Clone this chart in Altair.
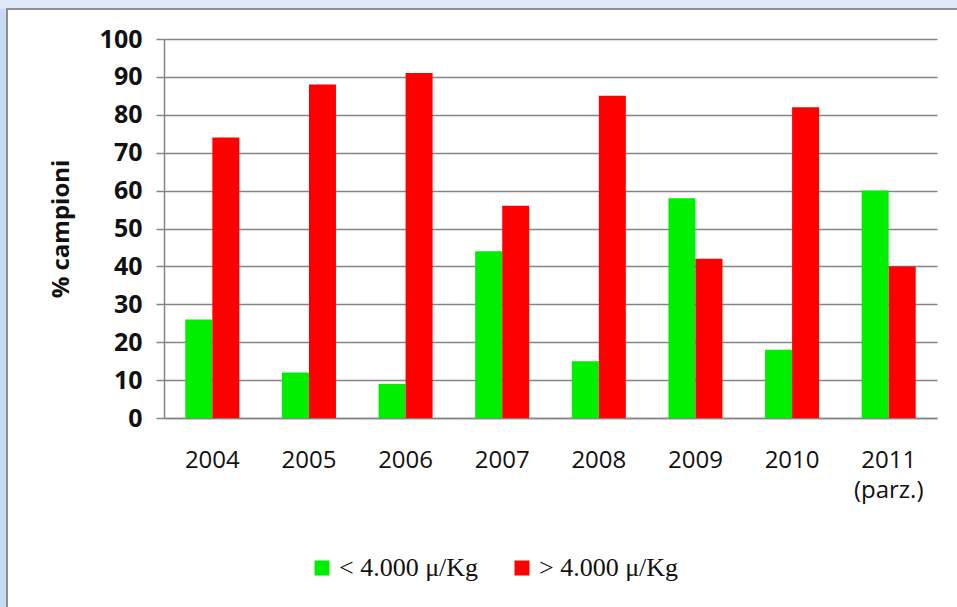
import altair as alt
import pandas as pd

# Chart data
years = ["2004", "2005", "2006", "2007", "2008", "2009", "2010", "2011 (parz.)"]
series = ["< 4.000 μ/Kg", "> 4.000 μ/Kg"]
below = [26, 12, 9, 44, 15, 58, 18, 60]
above = [74, 88, 91, 56, 85, 42, 82, 40]
colors = ["#00ee00", "#ff0000"]

rows = []
for y, lo, hi in zip(years, below, above):
    rows.append({"anno": y, "serie": series[0], "valore": lo})
    rows.append({"anno": y, "serie": series[1], "valore": hi})
df = pd.DataFrame(rows)

W, H = 773, 379
LEFT, TOP = 164, 39

bars = alt.Chart(df).mark_bar(size=27).encode(
    x=alt.X(
        "anno:N",
        sort=years,
        scale=alt.Scale(paddingInner=0.44, paddingOuter=0.22),
        axis=alt.Axis(
            title=None,
            labelAngle=0,
            ticks=False,
            domainColor="#858585",
            domainWidth=1.5,
            labelFont="Open Sans",
            labelFontSize=24,
            labelColor="#111111",
            labelPadding=30,
            labelLineHeight=30,
            labelBaseline="top",
            labelExpr="split(datum.value, ' ')",
        ),
    ),
    xOffset=alt.XOffset("serie:N", sort=series),
    y=alt.Y(
        "valore:Q",
        scale=alt.Scale(domain=[0, 100]),
        axis=alt.Axis(
            title="% campioni",
            values=list(range(0, 101, 10)),
            grid=True,
            gridColor="#858585",
            gridWidth=1.5,
            domainColor="#858585",
            domainWidth=1.5,
            tickColor="#858585",
            tickWidth=1.5,
            tickSize=8,
            labelFont="Open Sans",
            labelFontSize=25,
            labelFontWeight="bold",
            labelColor="#111111",
            labelPadding=14,
            titleFont="Open Sans",
            titleFontSize=24,
            titleFontWeight="bold",
            titleColor="#111111",
            titlePadding=26,
        ),
    ),
    color=alt.Color(
        "serie:N",
        sort=series,
        scale=alt.Scale(domain=series, range=colors),
        legend=alt.Legend(
            title=None,
            orient="none",
            direction="horizontal",
            legendX=145,
            legendY=516,
            symbolType="square",
            symbolSize=225,
            symbolStrokeWidth=0,
            labelFont="Liberation Serif",
            labelFontSize=26,
            labelColor="#111111",
            labelOffset=4,
            columnPadding=30,
        ),
    ),
)

# Page frame: light blue margin on the left and top, grey border of the white panel
frame_left = alt.Chart(df).mark_rect(color="#c9daf6").encode(
    x=alt.value(-LEFT), x2=alt.value(-LEFT + 7),
    y=alt.value(-TOP), y2=alt.value(607 - TOP),
)
frame_top = alt.Chart(df).mark_rect(color="#dfe8f8").encode(
    x=alt.value(-LEFT), x2=alt.value(957 - LEFT),
    y=alt.value(-TOP), y2=alt.value(-TOP + 9),
)
frame_border = alt.Chart(df).mark_rect(
    fillOpacity=0, stroke="#8f8f8f", strokeWidth=1.2
).encode(
    x=alt.value(-LEFT + 7), x2=alt.value(957 - LEFT + 20),
    y=alt.value(-TOP + 9), y2=alt.value(607 - TOP + 20),
)

chart = alt.layer(frame_left, frame_top, frame_border, bars).properties(
    width=W,
    height=H,
    background="white",
    padding={"left": LEFT, "top": TOP, "right": 957 - LEFT - W, "bottom": 607 - TOP - H},
    autosize=alt.AutoSizeParams(type="none"),
).configure_view(stroke=None)

chart.save("out.html", embed_options={"renderer": "svg", "actions": False})
